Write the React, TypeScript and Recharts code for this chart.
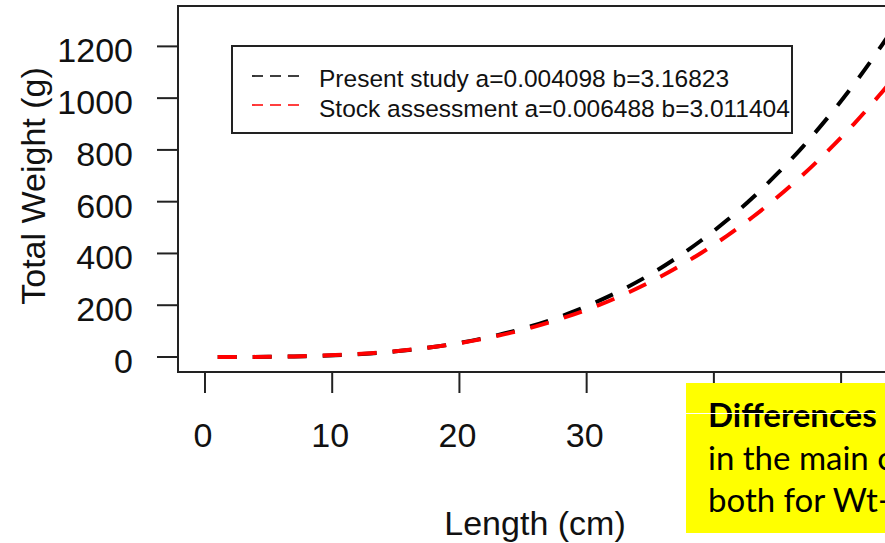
import { LineChart, Line, XAxis, YAxis, ReferenceArea } from 'recharts';

const lengths = [1, 3, 5, 7, 9, 11, 13, 15, 17, 19, 21, 23, 25, 27, 29, 31, 33, 35, 37, 39, 41, 43, 45, 47, 49, 51, 53, 55];
// Total weight (g), present study curve (black)
const presentStudy = [0.004, 0.13, 0.67, 1.95, 4.3, 8.2, 13.9, 21.8, 32.4, 46.1, 63.3, 84.5, 110, 140, 176, 218, 265, 319, 381, 450, 527, 613, 709, 813, 928, 1053, 1190, 1338];
// Total weight (g), stock assessment curve (red)
const stockAssessment = [0.006, 0.18, 0.83, 2.27, 4.85, 8.87, 14.7, 22.6, 32.9, 46.0, 62.2, 81.8, 105, 133, 165, 201, 243, 290, 343, 402, 467, 539, 618, 704, 798, 900, 1011, 1130];

const xTicks = [0, 10, 20, 30, 40, 50];
// labels of these ticks sit under the yellow note box, so they are not drawn
const coveredXLabels = [40, 50];
const yTicks = [0, 200, 400, 600, 800, 1000, 1200];
const xDomain: [number, number] = [-2.12, 54];
const yDomain: [number, number] = [-58, 1356];

const series = [
  { key: 'present', name: 'Present study a=0.004098 b=3.16823', color: '#000' },
  { key: 'stock', name: 'Stock assessment a=0.006488 b=3.011404', color: '#ff0000' },
];

const noteLines = ['Differences observed', 'in the main coefficients', 'both for Wt-L relationships'];

const FONT = '"Liberation Sans", Arial, sans-serif';

const data = lengths.map((length, i) => ({
  length,
  present: presentStudy[i],
  stock: stockAssessment[i],
}));

// eslint-disable-next-line @typescript-eslint/no-explicit-any
function YTick({ x, y, payload }: any) {
  return (
    <text x={x} y={y} dy={16} textAnchor="end" fontFamily={FONT} fontSize={34} fill="#111">
      {payload.value}
    </text>
  );
}

// eslint-disable-next-line @typescript-eslint/no-explicit-any
function XTick({ x, y, payload }: any) {
  if (coveredXLabels.includes(payload.value)) return <g />;
  return (
    <text x={x - 2} y={y} dy={54} textAnchor="middle" fontFamily={FONT} fontSize={34} fill="#111">
      {payload.value}
    </text>
  );
}

// R-style legend box, placed over the plot's upper left
function LegendBox() {
  return (
    <svg width={562} height={89} style={{ position: 'absolute', left: 231, top: 45, display: 'block' }}>
      <rect x={1} y={1} width={560} height={87} fill="#fff" stroke="#222" strokeWidth={2} />
      {series.map((s, i) => (
        <g key={s.key}>
          <line x1={21} x2={68} y1={31 + i * 29} y2={31 + i * 29} stroke={s.color} strokeWidth={1.6} strokeDasharray="11 7" />
          <text x={88} y={42 + i * 30} fontFamily={FONT} fontSize={24.5} fill="#111">{s.name}</text>
        </g>
      ))}
    </svg>
  );
}

export default function App() {
  return (
    <div style={{ position: 'absolute', left: 0, top: 0, width: 885, height: 543, overflow: 'hidden', background: '#fff' }}>
      <LineChart width={1000} height={543} data={data} margin={{ top: 6, right: 108, bottom: 0, left: 0 }}>
        <XAxis
          dataKey="length"
          type="number"
          domain={xDomain}
          ticks={xTicks}
          allowDataOverflow
          axisLine={false}
          tickLine={{ stroke: '#222', strokeWidth: 2 }}
          tickSize={21}
          tickMargin={0}
          height={171}
          tick={<XTick />}
          label={{
            // eslint-disable-next-line @typescript-eslint/no-explicit-any
            content: ({ viewBox }: any) => (
              <text
                x={viewBox.x + viewBox.width / 2}
                y={viewBox.y + 163}
                textAnchor="middle"
                fontFamily={FONT}
                fontSize={34}
                fill="#111"
              >
                Length (cm)
              </text>
            ),
          }}
        />
        <YAxis
          type="number"
          domain={yDomain}
          ticks={yTicks}
          allowDataOverflow
          axisLine={false}
          tickLine={{ stroke: '#222', strokeWidth: 2 }}
          tickSize={21}
          tickMargin={24}
          width={178}
          tick={<YTick />}
          label={{
            // eslint-disable-next-line @typescript-eslint/no-explicit-any
            content: ({ viewBox }: any) => {
              const cx = 45;
              const cy = viewBox.y + viewBox.height / 2 - 3;
              return (
                <text
                  x={cx}
                  y={cy}
                  transform={`rotate(-90, ${cx}, ${cy})`}
                  textAnchor="middle"
                  fontFamily={FONT}
                  fontSize={34}
                  fill="#111"
                >
                  Total Weight (g)
                </text>
              );
            },
          }}
        />
        <ReferenceArea
          x1={xDomain[0]}
          x2={xDomain[1]}
          y1={yDomain[0]}
          y2={yDomain[1]}
          fill="none"
          stroke="#222"
          strokeWidth={2}
          ifOverflow="visible"
        />
        {series.map(s => (
          <Line
            key={s.key}
            dataKey={s.key}
            name={s.name}
            type="monotone"
            stroke={s.color}
            strokeWidth={4}
            strokeDasharray="19 16"
            dot={false}
            isAnimationActive={false}
          />
        ))}
      </LineChart>
      <LegendBox />
      <div
        style={{
          position: 'absolute',
          left: 686,
          top: 383,
          width: 320,
          height: 150,
          background: '#ffff00',
          boxSizing: 'border-box',
          padding: '10px 0 0 22px',
          fontFamily: 'Lato, "Open Sans", sans-serif',
          fontSize: 33,
          lineHeight: '42.5px',
          color: '#000',
          whiteSpace: 'nowrap',
        }}
      >
        {noteLines.map((t, i) => (
          <div key={t} style={{ fontWeight: i === 0 ? 700 : 400 }}>{t}</div>
        ))}
        <div style={{ position: 'absolute', left: 0, top: 30, width: 190, height: 1, background: '#fff' }} />
      </div>
    </div>
  );
}
